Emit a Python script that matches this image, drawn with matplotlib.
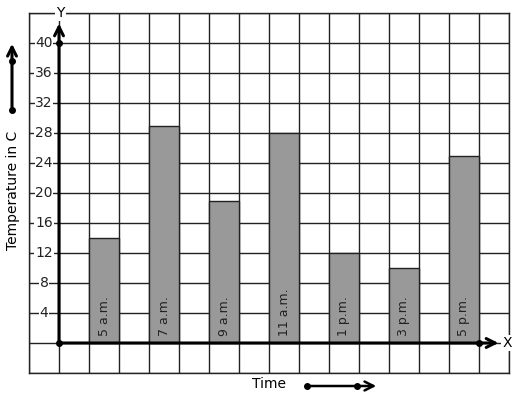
import matplotlib
matplotlib.use('Agg')
import matplotlib.pyplot as plt
import numpy as np

# data
times = ['5 a.m.', '7 a.m.', '9 a.m.', '11 a.m.', '1 p.m.', '3 p.m.', '5 p.m.']
temps = [14, 29, 19, 28, 12, 10, 25]
positions = [1.5, 3.5, 5.5, 7.5, 9.5, 11.5, 13.5]
y_ticks = [4, 8, 12, 16, 20, 24, 28, 32, 36, 40]

W, H = 517, 399


def main():
    fig = plt.figure(figsize=(W / 100, H / 100), dpi=100)
    ax = fig.add_axes([29 / W, (H - 373) / H, 480 / W, 360 / H])
    ax.set_xlim(-1, 15)
    ax.set_ylim(-4, 44)

    # grid: one column per unit, one row per 4 degrees
    for xv in range(-1, 16):
        ax.axvline(xv, color='#222222', lw=1, zorder=1)
    for yv in range(-4, 45, 4):
        ax.axhline(yv, color='#222222', lw=1, zorder=1)
    ax.set_xticks([])
    ax.set_yticks([])
    for s in ax.spines.values():
        s.set_color('#222222')
        s.set_linewidth(1)

    ax.bar(positions, temps, width=1, color='#999999', edgecolor='#222222',
           lw=1, zorder=2)
    for p, lab in zip(positions, times):
        ax.text(p, 1, lab, rotation=90, ha='center', va='bottom',
                fontsize=9, color='#222222', zorder=4)

    # axes with arrows
    ax.annotate('', xy=(0, 42.6), xytext=(0, 0),
                arrowprops=dict(arrowstyle='->', lw=2.2, color='black',
                                mutation_scale=16, shrinkA=0, shrinkB=0),
                zorder=5, annotation_clip=False)
    ax.annotate('', xy=(14.65, 0), xytext=(0, 0),
                arrowprops=dict(arrowstyle='->', lw=2.2, color='black',
                                mutation_scale=16, shrinkA=0, shrinkB=0),
                zorder=5, annotation_clip=False)
    ax.plot([0, 0, 14], [0, 40, 0], 'o', color='black', ms=4, zorder=6,
            clip_on=False)
    ax.text(0.05, 44, 'Y', ha='center', va='center', fontsize=10,
            bbox=dict(facecolor='white', edgecolor='none', pad=1), zorder=6)
    ax.text(14.95, 0, 'X', ha='center', va='center', fontsize=10,
            bbox=dict(facecolor='white', edgecolor='none', pad=1), zorder=6)

    for yv in y_ticks:
        ax.text(-0.5, yv, str(yv), ha='center', va='center', fontsize=10,
                color='#222222',
                bbox=dict(facecolor='white', edgecolor='none', pad=0.5),
                zorder=3)

    # axis titles with their arrows, outside the plot box
    fig.text(13 / W, 1 - 190 / H, 'Temperature in C', rotation=90,
             ha='center', va='center', fontsize=10)
    fig.text(269 / W, 1 - 384 / H, 'Time', ha='center', va='center',
             fontsize=10)

    fig.add_artist(matplotlib.patches.FancyArrowPatch(
        (12 / W, 1 - 110 / H), (12 / W, 1 - 41 / H), transform=fig.transFigure,
        arrowstyle='->', lw=2.2, color='black', mutation_scale=16))
    fig.add_artist(matplotlib.patches.FancyArrowPatch(
        (307 / W, 1 - 386 / H), (379 / W, 1 - 386 / H),
        transform=fig.transFigure, arrowstyle='->', lw=1.8, color='black',
        mutation_scale=16))
    for px, py in [(12, 110), (12, 61), (307, 386), (357, 386)]:
        fig.add_artist(plt.Line2D([px / W], [1 - py / H], marker='o',
                                  ms=4, color='black',
                                  transform=fig.transFigure))

    fig.savefig('out.png', dpi=100)


if __name__ == "__main__":
    main()
